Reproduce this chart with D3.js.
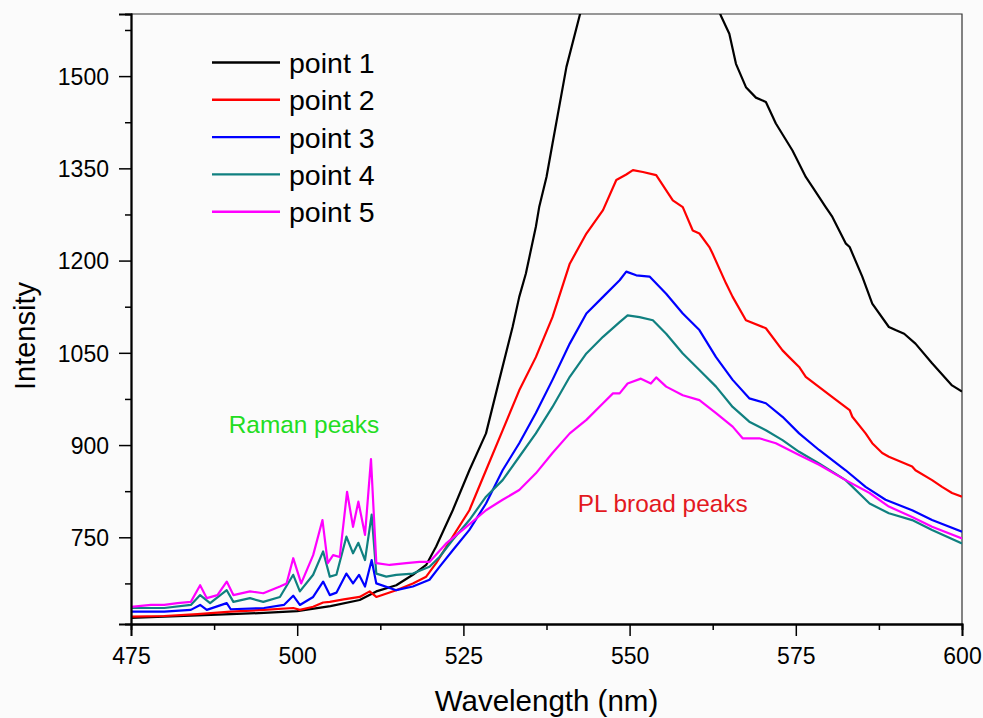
<!DOCTYPE html>
<html>
<head>
<meta charset="utf-8">
<script src="https://cdn.jsdelivr.net/npm/d3@7"></script>
<style>
  html, body { margin: 0; padding: 0; background: #fbfbfb; }
  svg { display: block; font-family: Arial, "Liberation Sans", sans-serif; }
</style>
</head>
<body>
<svg id="chart"></svg>
<script>
const W = 983, H = 718;
const M = {t:14, r:21, b:94, l:131};

// data: [wavelength nm, intensity]
const point1 = [[475,619],[480,621],[485,623],[490,625],[495,627],[500,630],[505,638],[509.4,648],[511.9,662],[514.9,672],[517.4,689],[519.4,705],[520.9,735],[523.4,794],[525.9,859],[528.4,919],[530.4,1006],[532.4,1092],[533.4,1141],[534.4,1179],[535.9,1255],[536.4,1287],[537.5,1336],[538.4,1390],[540.5,1515],[542.5,1599],[545,1700],[550,1790],[555,1800],[560,1720],[563.7,1599],[565,1569],[566,1520],[567.5,1482],[569,1465],[570.5,1458],[572,1423],[574.5,1379],[576.5,1336],[577.5,1320],[579.5,1287],[580.5,1271],[582.5,1228],[583.1,1222],[585,1174],[586.5,1130],[589,1092],[590,1087],[591.3,1081],[593,1065],[595.5,1033],[598.5,997],[600,987]];
const point2 = [[475,621],[480,622],[485,625],[490,629],[495,632],[499.4,635],[500.4,632],[502.4,637],[503.9,644],[504.9,645],[507,649],[509.4,653],[510.9,662],[511.9,653],[514.9,664],[517.4,675],[519.4,686],[520.9,708],[523.4,751],[525.9,794],[528.4,859],[530.9,924],[533.4,989],[535.9,1043],[538.4,1108],[541,1195],[543.5,1244],[546,1282],[548,1331],[549.5,1340],[550.5,1347],[552,1344],[554,1339],[556.5,1298],[558,1287],[559.5,1249],[560.5,1244],[562,1222],[562.5,1211],[564.5,1163],[565.5,1141],[567.5,1103],[570.5,1090],[573,1054],[574,1043],[575.5,1027],[576.5,1011],[580.5,978],[583.1,957],[583.5,946],[585.5,919],[586.5,903],[588,887],[589,881],[592.5,865],[593,859],[595.5,843],[597,832],[598.5,822],[600,816]];
const point3 = [[475,629],[480,629],[484,632],[485.4,640],[486.4,632],[489.4,643],[490,633],[495,635],[498,640],[499.4,655],[500.4,640],[502.4,653],[503.9,678],[504.9,656],[505.9,660],[507.4,691],[508.4,675],[509.3,689],[510.2,670],[511.2,713],[511.9,675],[514.9,664],[517.4,670],[519.9,681],[521.4,702],[523.4,729],[525.9,762],[528.4,805],[530.9,859],[533.4,903],[535.9,952],[538.4,1006],[541,1065],[543.5,1114],[546,1141],[548.5,1168],[549.5,1182],[551,1176],[553,1174],[555.5,1146],[558,1114],[560.5,1087],[563,1043],[565.5,1006],[568,976],[570.5,968],[573,946],[575.5,919],[578.5,892],[582.5,859],[585.5,832],[588.5,811],[592.5,794],[595.5,778],[600,759]];
const point4 = [[475,635],[480,635],[484,640],[485.4,656],[486.9,643],[489.4,664],[490.4,645],[492.9,651],[494.9,645],[497.4,653],[499.4,689],[500.4,662],[502.4,689],[503.9,727],[504.9,686],[505.9,689],[507.4,751],[508.4,724],[509.2,741],[510.2,713],[511.2,787],[511.9,691],[513.4,686],[514.9,689],[517.4,691],[519.9,702],[521.4,718],[523.4,746],[525.9,778],[528.4,816],[530.9,843],[533.4,881],[535.9,919],[538.4,962],[541,1011],[543.5,1049],[546,1076],[548.5,1100],[549.7,1111],[551.5,1108],[553.5,1103],[555.5,1081],[558,1049],[560.5,1022],[563,995],[565.5,962],[568,938],[570.5,924],[573,908],[575.5,889],[578.5,870],[582.5,843],[586.1,805],[589,789],[592.5,778],[595.5,762],[600,740]];
const point5 = [[475,637],[478,640],[480,640],[482,643],[484,645],[485.4,672],[486.4,651],[488,656],[489.4,678],[490.4,656],[492.9,662],[494.9,659],[497.4,670],[498.4,675],[499.4,716],[500.6,675],[502.4,721],[503.8,778],[504.6,708],[505.4,721],[506.4,718],[507.5,824],[508.4,767],[509.2,808],[510.2,754],[511.1,877],[511.9,708],[513.9,705],[516.4,708],[518.4,710],[519.9,710],[522.4,740],[524.9,762],[528.4,794],[530.9,811],[533.4,827],[535.9,854],[538.4,887],[541,919],[543.5,941],[546,968],[547.5,984],[548.5,984],[549.7,1000],[551.7,1008],[553.2,1000],[554,1010],[555.5,995],[558,981],[560.5,973],[563,952],[565.5,930],[567,911],[569.5,911],[572,903],[575.5,884],[578.5,868],[582.5,843],[586.1,822],[589,800],[592.5,783],[595.5,767],[600,748]];

const seriesNames = ["point 1","point 2","point 3","point 4","point 5"];
const seriesData = [point1, point2, point3, point4, point5];
const xTicks = [475, 500, 525, 550, 575, 600];
const xMinor = [487.5, 512.5, 537.5, 562.5, 587.5];
const yTicks = [750, 900, 1050, 1200, 1350, 1500];
const yMinor = [675, 825, 975, 1125, 1275, 1425, 1575];
const notes = [
  {text: "Raman peaks", wl: 489.7, val: 919, color: "#22dd22"},
  {text: "PL broad peaks", wl: 542.2, val: 791, color: "#e3191f"}
];

const colors = ["#000000","#ff0000","#0000ff","#108080","#ff00ff"];

const svg = d3.select("#chart").attr("width", W).attr("height", H);
const innerW = W - M.l - M.r, innerH = H - M.t - M.b;

const x = d3.scaleLinear().domain([475, 600]).range([M.l, M.l + innerW]);
const y = d3.scaleLinear().domain([609, 1601]).range([M.t + innerH, M.t]);

svg.append("defs").append("clipPath").attr("id", "clip")
  .append("rect").attr("x", M.l).attr("y", M.t).attr("width", innerW).attr("height", innerH);

// frame (top + right)
svg.append("path")
  .attr("d", `M${M.l},${M.t}H${M.l+innerW}V${M.t+innerH}`)
  .attr("fill", "none").attr("stroke", "#333").attr("stroke-width", 1.2);

// lines
const line = d3.line().x(d => x(d[0])).y(d => y(d[1]));
svg.append("g").attr("clip-path", "url(#clip)")
  .selectAll("path").data(seriesData).join("path")
    .attr("fill", "none")
    .attr("stroke", (d,i) => colors[i])
    .attr("stroke-width", 2.2)
    .attr("stroke-linejoin", "round")
    .attr("d", line);

// axes
const xAx = svg.append("g").attr("transform", `translate(0,${M.t+innerH})`)
  .call(d3.axisBottom(x).tickValues(xTicks).tickFormat(d3.format("d")).tickSize(12).tickPadding(12));
const xAxMinor = svg.append("g").attr("transform", `translate(0,${M.t+innerH})`)
  .call(d3.axisBottom(x).tickValues(xMinor).tickFormat("").tickSize(6));
const yAx = svg.append("g").attr("transform", `translate(${M.l},0)`)
  .call(d3.axisLeft(y).tickValues(yTicks).tickFormat(d3.format("d")).tickSize(12).tickPadding(10));
const yAxMinor = svg.append("g").attr("transform", `translate(${M.l},0)`)
  .call(d3.axisLeft(y).tickValues(yMinor).tickFormat("").tickSize(6));

[xAx, xAxMinor, yAx, yAxMinor].forEach(g => {
  g.select(".domain").attr("stroke", "#000").attr("stroke-width", 1.8);
  g.selectAll(".tick line").attr("stroke", "#000").attr("stroke-width", 1.5);
  g.selectAll("text").attr("fill", "#000").style("font-size", "23px")
    .style("font-family", "Arial, 'Liberation Sans', sans-serif");
});
yAx.selectAll("text").attr("dy", "0.36em");

// axis titles
svg.append("text")
  .attr("x", M.l + innerW/2).attr("y", 711)
  .attr("text-anchor", "middle")
  .style("font-size", "29.5px")
  .text("Wavelength (nm)");

svg.append("text")
  .attr("transform", "translate(35,336) rotate(-90)")
  .attr("text-anchor", "middle")
  .style("font-size", "29px")
  .text("Intensity");

// legend
const leg = svg.append("g");
seriesNames.forEach((name, i) => {
  const ly = 62.5 + i * 37.3;
  leg.append("line")
    .attr("x1", 212).attr("x2", 280).attr("y1", ly).attr("y2", ly)
    .attr("stroke", colors[i]).attr("stroke-width", 2.4);
  leg.append("text")
    .attr("x", 289).attr("y", ly + 10.5)
    .style("font-size", "28.5px")
    .text(name);
});

// annotations
svg.selectAll(".note").data(notes).join("text")
  .attr("class", "note")
  .attr("x", d => x(d.wl)).attr("y", d => y(d.val))
  .attr("fill", d => d.color)
  .style("font-size", "24.4px")
  .text(d => d.text);
</script>
</body>
</html>
